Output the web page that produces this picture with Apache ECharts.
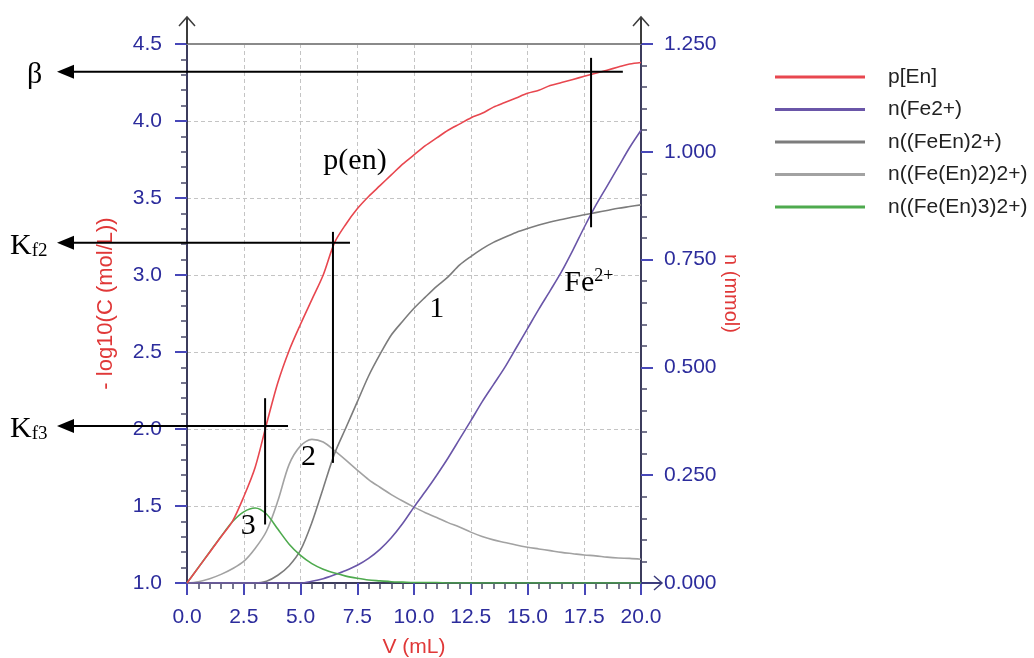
<!DOCTYPE html>
<html><head><meta charset="utf-8">
<script src="https://cdn.jsdelivr.net/npm/echarts@6/dist/echarts.min.js"></script>
<style>html,body{margin:0;padding:0;background:#fff;overflow:hidden}#c{width:1034px;height:658px}</style>
</head><body><div id="c"></div>
<script>
// ---- data ----
const volume = [0,0.5,1,1.5,2,2.5,3,3.5,4,4.5,5,5.5,6,6.5,7,7.5,8,8.5,9,9.5,10,10.5,11,11.5,12,12.5,13,13.5,14,14.5,15,15.5,16,16.5,17,17.5,18,18.5,19,19.5,20];
const pEn = [1.00,1.10,1.20,1.30,1.40,1.56,1.75,2.03,2.30,2.51,2.68,2.84,3.00,3.21,3.33,3.43,3.51,3.58,3.65,3.72,3.78,3.84,3.89,3.94,3.98,4.02,4.05,4.09,4.12,4.15,4.18,4.20,4.23,4.25,4.27,4.29,4.31,4.33,4.35,4.37,4.38];
const nFe = [0,0,0,0,0,0,0,0,0,0,0,0.004,0.010,0.019,0.029,0.041,0.057,0.078,0.105,0.138,0.176,0.212,0.250,0.290,0.333,0.376,0.420,0.460,0.500,0.545,0.590,0.635,0.678,0.722,0.772,0.825,0.875,0.920,0.965,1.010,1.050];
const nFeEn = [0,0,0,0,0,0,0,0.004,0.018,0.040,0.076,0.140,0.220,0.300,0.360,0.420,0.480,0.530,0.575,0.607,0.637,0.663,0.688,0.710,0.737,0.757,0.775,0.790,0.802,0.813,0.822,0.830,0.837,0.843,0.849,0.854,0.859,0.864,0.869,0.873,0.877];
const nFeEn2 = [0,0.003,0.010,0.020,0.033,0.050,0.080,0.120,0.190,0.275,0.318,0.333,0.327,0.307,0.285,0.262,0.240,0.222,0.205,0.190,0.176,0.163,0.152,0.140,0.130,0.118,0.108,0.100,0.094,0.088,0.083,0.079,0.075,0.071,0.068,0.065,0.063,0.060,0.058,0.057,0.055];
const nFeEn3 = [0,0.036,0.072,0.108,0.142,0.165,0.174,0.160,0.125,0.090,0.064,0.045,0.032,0.023,0.016,0.011,0.007,0.005,0.003,0.002,0.001,0.001,0.001,0,0,0,0,0,0,0,0,0,0,0,0,0,0,0,0,0,0];
const seriesNames = ['p[En]','n(Fe2+)','n((FeEn)2+)','n((Fe(En)2)2+)','n((Fe(En)3)2+)'];
// annotation guides (left-axis units): horizontal level, end of horizontal, vertical x, vertical from/to
const guideLevels = [4.32, 3.21, 2.02];
const guideEndV   = [19.2, 7.18, 4.45];
const guideVertV  = [17.8, 6.43, 3.44];
const guideVertTop = [4.41, 3.28, 2.20];
const guideVertBot = [3.31, 1.78, 1.38];
// curve labels: [V, left-axis value, text]
const curveLabels = [[7.4, 3.74, 'p(en)'], [11.0, 2.78, '1'], [5.35, 1.82, '2'], [2.7, 1.37, '3']];

const pair = arr => volume.map((v,i)=>[v, arr[i]]);
const FONT = '"Liberation Sans", Arial, sans-serif';
const SERIF = '"Liberation Serif", "Times New Roman", serif';
const blue = '#2c2c9c';
const red = '#e03838';

const chart = echarts.init(document.getElementById('c'));
const axisCommon = {
  axisLine: {show:true, lineStyle:{color:'#3c3c5c', width:2}},
  axisTick: {show:true, length:12, lineStyle:{color:'#4848b8', width:2}},
  minorTick: {show:true, splitNumber:5, length:6, lineStyle:{color:'#4a4a6a', width:1.5}},
  splitLine: {show:true, lineStyle:{color:'#c4c4c4', type:[4,3], width:1}},
};
const mk = (name, arr, color, yIdx, z) => ({
  name, type:'line', data: pair(arr), yAxisIndex: yIdx, showSymbol:false, smooth:0.3,
  lineStyle:{color, width:1.6}, itemStyle:{color}, z, animation:false
});
chart.setOption({
  animation:false,
  grid:{left:187, right:393, top:44, bottom:75, containLabel:false, outerBoundsMode:'none'},
  legend:{
    orient:'vertical', left:770, top:61, icon:'rect', itemWidth:90, itemHeight:3, itemGap:10.5,
    data: seriesNames,
    textStyle:{fontFamily:FONT, fontSize:21, color:'#222', lineHeight:22, padding:[0,0,0,18]}
  },
  xAxis:{
    type:'value', min:0, max:20, interval:2.5, ...axisCommon,
    axisLabel:{color:blue, fontFamily:FONT, fontSize:21, margin:24, formatter:v=>v.toFixed(1)},
    name:'V (mL)', nameLocation:'middle', nameGap:54,
    nameTextStyle:{color:red, fontFamily:FONT, fontSize:21}
  },
  yAxis:[{
    type:'value', min:1, max:4.5, interval:0.5, ...axisCommon,
    axisLabel:{color:blue, fontFamily:FONT, fontSize:21, margin:25, formatter:v=>v.toFixed(1)},
    name:'- log10(C (mol/L))', nameLocation:'middle', nameGap:70,
    nameTextStyle:{color:red, fontFamily:FONT, fontSize:22, padding:[0,0,0,20]}
  },{
    type:'value', min:0, max:1.25, interval:0.25, position:'right', ...axisCommon,
    splitLine:{show:false},
    axisLabel:{color:blue, fontFamily:FONT, fontSize:21, margin:23, formatter:v=>v.toFixed(3)},
    name:'n (mmol)', nameLocation:'middle', nameGap:78, nameRotate:-90,
    nameTextStyle:{color:red, fontFamily:FONT, fontSize:20, padding:[0,40,0,0]}
  }],
  series:[
    mk(seriesNames[0], pEn, '#e8474f', 0, 6),
    mk(seriesNames[1], nFe, '#6a56a8', 1, 5),
    mk(seriesNames[2], nFeEn, '#7c7c7c', 1, 4),
    mk(seriesNames[3], nFeEn2, '#a2a2a2', 1, 3),
    mk(seriesNames[4], nFeEn3, '#4eaa4e', 1, 5)
  ]
});

function P(v, y){ return chart.convertToPixel({xAxisIndex:0, yAxisIndex:0}, [v, y]); }
const g = [];
const axC = '#3c3c3c';
// top border
const tl = P(0,4.5), tr = P(20,4.5), br = P(20,1);
g.push({type:'line', shape:{x1:tl[0], y1:tl[1], x2:tr[0], y2:tr[1]}, style:{stroke:'#8a8a8a', lineWidth:2}, z:10});
// axis extension arrows
[tl, tr].forEach(p=>{
  g.push({type:'line', shape:{x1:p[0], y1:p[1], x2:p[0], y2:p[1]-27}, style:{stroke:axC, lineWidth:2}, z:10});
  g.push({type:'polyline', shape:{points:[[p[0]-8,p[1]-18],[p[0],p[1]-27],[p[0]+8,p[1]-18]]}, style:{stroke:axC, lineWidth:1.5, fill:null}, z:10});
});
g.push({type:'line', shape:{x1:br[0], y1:br[1], x2:br[0]+21, y2:br[1]}, style:{stroke:'#3c3c7c', lineWidth:2}, z:10});
g.push({type:'polyline', shape:{points:[[br[0]+13,br[1]-7],[br[0]+21,br[1]],[br[0]+13,br[1]+7]]}, style:{stroke:'#3c3c7c', lineWidth:1.5, fill:null}, z:10});

// guides
const tipX = 57;
guideLevels.forEach((lv,i)=>{
  const a = P(guideEndV[i], lv);
  g.push({type:'line', shape:{x1:tipX+10, y1:a[1], x2:a[0], y2:a[1]}, style:{stroke:'#000', lineWidth:2}, z:20});
  g.push({type:'polygon', shape:{points:[[tipX,a[1]],[tipX+17,a[1]-7],[tipX+17,a[1]+7]]}, style:{fill:'#000'}, z:20});
  const t = P(guideVertV[i], guideVertTop[i]), b = P(guideVertV[i], guideVertBot[i]);
  g.push({type:'line', shape:{x1:t[0], y1:t[1], x2:b[0], y2:b[1]}, style:{stroke:'#000', lineWidth:2}, z:20});
});
// left labels
const lvPix = guideLevels.map(lv=>P(0,lv)[1]);
g.push({type:'text', x:27, y:lvPix[0]+3, style:{text:'β', font:'30px '+SERIF, fill:'#000', verticalAlign:'middle'}, z:20});
['2','3'].forEach((s,i)=>{
  g.push({type:'text', x:10, y:lvPix[i+1]+3, style:{
    text:'{k|K}{s|f'+s+'}', verticalAlign:'middle', fill:'#000',
    rich:{k:{font:'30px '+SERIF, fill:'#000', verticalAlign:'bottom', lineHeight:30},
          s:{font:'19px '+SERIF, fill:'#000', verticalAlign:'bottom', lineHeight:24}}
  }, z:20});
});
curveLabels.forEach(c=>{
  const p = P(c[0], c[1]);
  g.push({type:'text', x:p[0], y:p[1], style:{text:c[2], font:'30px '+SERIF, fill:'#000', align:'center', verticalAlign:'middle'}, z:20});
});
const fe = P(17.7, 2.95);
g.push({type:'text', x:fe[0], y:fe[1], style:{
  text:'{a|Fe}{b|2+}', align:'center', verticalAlign:'middle',
  rich:{a:{font:'30px '+SERIF, fill:'#000', verticalAlign:'top', lineHeight:30},
        b:{font:'18px '+SERIF, fill:'#000', verticalAlign:'top', lineHeight:18}}
}, z:20});
chart.setOption({graphic:g});
</script></body></html>
